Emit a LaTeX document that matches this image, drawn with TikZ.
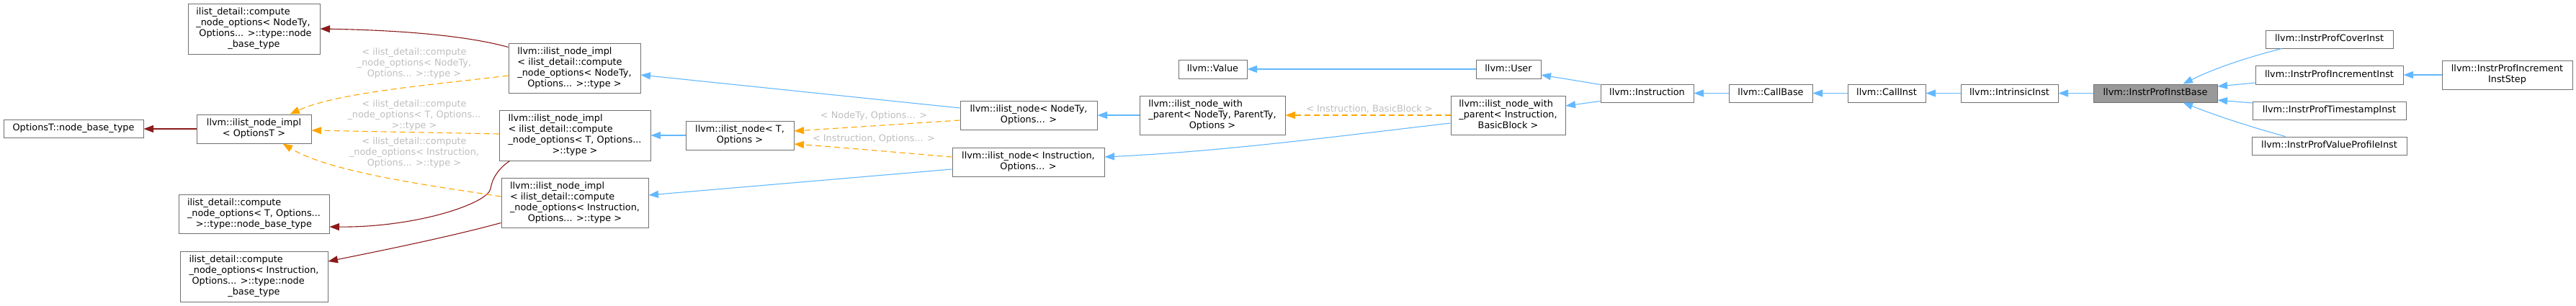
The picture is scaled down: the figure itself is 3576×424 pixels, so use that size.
\documentclass[tikz,border=0pt]{standalone}
\usepackage{fontspec}
\setmainfont{DejaVu Sans}
\usetikzlibrary{arrows.meta,calc}
\definecolor{edgeblue}{HTML}{63B8FF}
\definecolor{edgered}{HTML}{8B1A1A}
\definecolor{edgeorange}{HTML}{FFA500}
\definecolor{boxline}{HTML}{707070}
\definecolor{basefill}{HTML}{999999}
\definecolor{labelgrey}{HTML}{BEBEBE}
\newcommand{\lastline}[1]{\multicolumn{1}{@{}c@{}}{#1}}
\newcommand{\tbl}[1]{\begin{tabular}{@{}l@{}}#1\end{tabular}}
\newcommand{\tbc}[1]{\begin{tabular}{@{}c@{}}#1\end{tabular}}
\tikzset{
  cls/.style={draw=boxline, line width=1pt, fill=white, inner sep=0pt, font=\fontsize{12.85}{15}\selectfont},
  mainbox/.style={cls, fill=basefill},
  inhE/.style={draw=edgeblue, line width=1.1pt, -{Triangle[length=13.5pt,width=10pt]}},
  useE/.style={draw=edgered, line width=1.1pt, -{Triangle[length=13.5pt,width=10pt]}},
  tmplE/.style={draw=edgeorange, line width=1.1pt, dash pattern=on 8pt off 5pt, -{Triangle[length=13.5pt,width=10pt]}},
  elabel/.style={text=labelgrey, inner sep=0pt, font=\fontsize{12.85}{15}\selectfont},
}
\begin{document}
\begin{tikzpicture}[x=1pt,y=-1pt]
\useasboundingbox (0,0) rectangle (3576,424);

% ---- nodes ----
\node[cls, minimum width=183pt, minimum height=70pt] (cnoNT) at (352.5,40)
  {\tbl{ilist\_detail::compute\\\_node\_options< NodeTy,\\~Options... >::type::node\\\lastline{\_base\_type}}};
\node[cls, minimum width=194pt, minimum height=25pt] (optT) at (102,178.5)
  {\tbl{OptionsT::node\_base\_type}};
\node[cls, minimum width=159pt, minimum height=40pt] (implOT) at (352.5,179)
  {\tbl{llvm::ilist\_node\_impl\\\lastline{< OptionsT >}}};
\node[cls, minimum width=209pt, minimum height=54pt] (cnoT) at (352.5,297)
  {\tbl{ilist\_detail::compute\\\_node\_options< T, Options...\\\lastline{>::type::node\_base\_type}}};
\node[cls, minimum width=205pt, minimum height=70pt] (cnoI) at (352.5,384)
  {\tbl{ilist\_detail::compute\\\_node\_options< Instruction,\\~Options... >::type::node\\\lastline{\_base\_type}}};

\node[cls, minimum width=183pt, minimum height=69pt] (implNT) at (797.5,94.5)
  {\tbl{llvm::ilist\_node\_impl\\< ilist\_detail::compute\\\_node\_options< NodeTy,\\\lastline{Options... >::type >}}};
\node[cls, minimum width=210pt, minimum height=70pt] (implT) at (798,188)
  {\tbl{llvm::ilist\_node\_impl\\< ilist\_detail::compute\\\_node\_options< T, Options...\\\lastline{>::type >}}};
\node[cls, minimum width=204pt, minimum height=69pt] (implI) at (798,281.5)
  {\tbl{llvm::ilist\_node\_impl\\< ilist\_detail::compute\\\_node\_options< Instruction,\\\lastline{Options... >::type >}}};

\node[cls, minimum width=150pt, minimum height=40pt] (nodeT) at (1027,188)
  {\tbl{llvm::ilist\_node< T,\\\lastline{Options >}}};
\node[cls, minimum width=190pt, minimum height=40pt] (nodeNT) at (1428,160)
  {\tbl{llvm::ilist\_node< NodeTy,\\\lastline{Options... >}}};
\node[cls, minimum width=211pt, minimum height=40pt] (nodeI) at (1427.5,225)
  {\tbl{llvm::ilist\_node< Instruction,\\\lastline{Options... >}}};

\node[cls, minimum width=95pt, minimum height=26pt] (value) at (1683.5,96)
  {\tbl{llvm::Value}};
\node[cls, minimum width=202pt, minimum height=54pt] (wpNT) at (1683,160)
  {\tbl{llvm::ilist\_node\_with\\\_parent< NodeTy, ParentTy,\\\lastline{Options >}}};
\node[cls, minimum width=90pt, minimum height=26pt] (user) at (2094,96)
  {\tbl{llvm::User}};
\node[cls, minimum width=159pt, minimum height=54pt] (wpI) at (2093.5,160)
  {\tbl{llvm::ilist\_node\_with\\\_parent< Instruction,\\\lastline{BasicBlock >}}};

\node[cls, minimum width=129pt, minimum height=25pt] (instr) at (2286.5,129.5)
  {\tbl{llvm::Instruction}};
\node[cls, minimum width=116pt, minimum height=25pt] (callbase) at (2458,129.5)
  {\tbl{llvm::CallBase}};
\node[cls, minimum width=108pt, minimum height=25pt] (callinst) at (2619,129.5)
  {\tbl{llvm::CallInst}};
\node[cls, minimum width=135pt, minimum height=25pt] (intrinsic) at (2789.5,129.5)
  {\tbl{llvm::IntrinsicInst}};
\node[mainbox, minimum width=172pt, minimum height=25pt] (base) at (2992,129.5)
  {\tbl{llvm::InstrProfInstBase}};

\node[cls, minimum width=177pt, minimum height=25pt] (cover) at (3233.5,54.5)
  {\tbl{llvm::InstrProfCoverInst}};
\node[cls, minimum width=205pt, minimum height=26pt] (incr) at (3233.5,104)
  {\tbl{llvm::InstrProfIncrementInst}};
\node[cls, minimum width=213pt, minimum height=25pt] (ts) at (3233.5,153.5)
  {\tbl{llvm::InstrProfTimestampInst}};
\node[cls, minimum width=215pt, minimum height=25pt] (vp) at (3233.5,202.5)
  {\tbl{llvm::InstrProfValueProfileInst}};
\node[cls, minimum width=181pt, minimum height=40pt] (step) at (3480.5,104)
  {\tbl{llvm::InstrProfIncrement\\\lastline{InstStep}}};

% ---- edge labels ----
\node[elabel] (lab1) at (575,88) {\tbc{< ilist\_detail::compute\\\_node\_options< NodeTy,\\Options... >::type >}};
\node[elabel] (lab2) at (575,160) {\tbc{< ilist\_detail::compute\\\_node\_options< T, Options...\\>::type >}};
\node[elabel] (lab3) at (575,212) {\tbc{< ilist\_detail::compute\\\_node\_options< Instruction,\\Options... >::type >}};
\node[elabel] (lab4) at (1213,161) {\tbc{< NodeTy, Options... >}};
\node[elabel] (lab5) at (1213,193) {\tbc{< Instruction, Options... >}};
\node[elabel] (lab6) at (1901,152) {\tbc{< Instruction, BasicBlock >}};

% ---- edges (child -> parent) ----
% usage (dark red)
\draw[useE] ($(implNT.north west)+(0,6)$) .. controls (650,50) and (560,42) .. (cnoNT.east);
\draw[useE] (implOT.west) -- (optT.east |- implOT.west);
\draw[useE] ($(implT.south west)+(15,0)$) .. controls (692,234) and (683,248) .. (681,262)
  .. controls (678,282) and (580,316) .. ($(cnoT.east)+(0,18)$);
\draw[useE] ($(implI.south west)+(0,-7)$) .. controls (620,330) and (520,350) .. ($(cnoI.east)+(0,-21)$);

% template (orange dashed)
\draw[tmplE] ($(implNT.west)+(0,10.5)$) .. controls (600,118) and (470,128) .. ($(implOT.north)+(50,0)$);
\draw[tmplE] ($(implT.west)+(0,-2)$) -- ($(implOT.east)+(0,2)$);
\draw[tmplE] ($(implI.west)+(0,-8.5)$) .. controls (600,258) and (460,240) .. ($(implOT.south)+(40,0)$);
\draw[tmplE] ($(nodeNT.west)+(0,7)$) -- ($(nodeT.east)+(0,-6)$);
\draw[tmplE] ($(nodeI.west)+(0,-7)$) .. controls (1250,212) and (1170,205) .. ($(nodeT.east)+(0,12)$);
\draw[tmplE] (wpI.west) -- (wpNT.east);

% inheritance (blue)
\draw[inhE] ($(nodeNT.west)+(0,-10)$) -- ($(implNT.east)+(0,9.5)$);
\draw[inhE] (nodeT.west) -- (implT.east);
\draw[inhE] ($(nodeI.west)+(0,10)$) -- ($(implI.east)+(0,-10.5)$);
\draw[inhE] (wpNT.west) -- (nodeNT.east);
\draw[inhE] ($(wpI.west)+(0,11)$) .. controls (1850,190) and (1700,210) .. ($(nodeI.east)+(0,-7)$);
\draw[inhE] (user.west) -- (value.east);
\draw[inhE] ($(instr.north west)+(0,1)$) -- ($(user.east)+(0,8)$);
\draw[inhE] ($(instr.south west)+(0,-2)$) -- ($(wpI.east)+(0,-13)$);
\draw[inhE] (callbase.west) -- (instr.east);
\draw[inhE] (callinst.west) -- (callbase.east);
\draw[inhE] (intrinsic.west) -- (callinst.east);
\draw[inhE] (base.west) -- (intrinsic.east);
\draw[inhE] ($(cover.south west)+(23,0)$) .. controls (3130,77) and (3080,92) .. ($(base.north east)+(-48,0)$);
\draw[inhE] ($(incr.west)+(0,11)$) -- ($(base.east)+(0,-9.5)$);
\draw[inhE] ($(ts.west)+(0,-10.5)$) -- ($(base.east)+(0,9.5)$);
\draw[inhE] ($(vp.north west)+(47,0)$) .. controls (3130,178) and (3080,162) .. ($(base.south east)+(-48,0)$);
\draw[inhE] (step.west) -- (incr.east);
\end{tikzpicture}
\end{document}
